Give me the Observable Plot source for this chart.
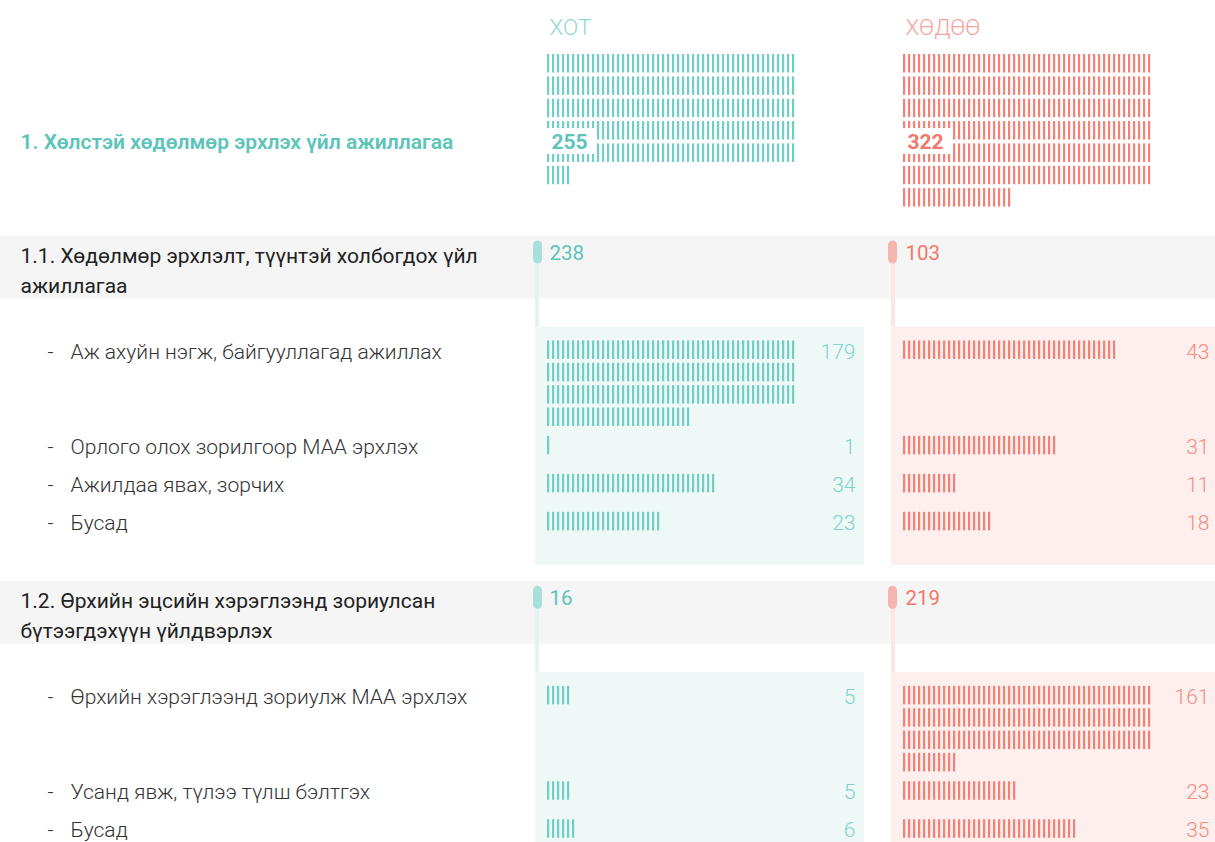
<!DOCTYPE html>
<html><head><meta charset="utf-8">
<script src="https://cdn.jsdelivr.net/npm/d3@7"></script>
<script src="https://cdn.jsdelivr.net/npm/@observablehq/plot@0.6"></script>
<style>body{margin:0;background:#fff;} svg{display:block;}</style>
</head><body><div id="chart"></div>
<script>
// ---- data ----
const columns = ["ХОТ", "ХӨДӨӨ"];
const totalLabel = "1. Хөлстэй хөдөлмөр эрхлэх үйл ажиллагаа";
const totalValues = [255, 322];
const sectionLabels = [
  "1.1. Хөдөлмөр эрхлэлт, түүнтэй холбогдох үйл\nажиллагаа",
  "1.2. Өрхийн эцсийн хэрэглээнд зориулсан\nбүтээгдэхүүн үйлдвэрлэх"
];
const sectionHot = [238, 16];
const sectionHodoo = [103, 219];
const itemSection = [0, 0, 0, 0, 1, 1, 1];
const itemLabels = [
  "Аж ахуйн нэгж, байгууллагад ажиллах",
  "Орлого олох зорилгоор МАА эрхлэх",
  "Ажилдаа явах, зорчих",
  "Бусад",
  "Өрхийн хэрэглээнд зориулж МАА эрхлэх",
  "Усанд явж, түлээ түлш бэлтгэх",
  "Бусад"
];
const itemHot = [179, 1, 34, 23, 5, 5, 6];
const itemHodoo = [43, 31, 11, 18, 161, 23, 35];

// ---- layout ----
const W = 1215, H = 842;
const perRow = 50, step = 5, tickW = 2.2, tickH = 18.5, pitch = 22.35;
const colX = [547, 903];
const pillX = [533, 888];
const lineX = [535, 891];
const bgX = [[535, 864], [891, 1225]];
const numRight = [855, 1209];
const tickColor = ["#6fcfc5", "#f58075"];
const headColor = ["#8fd8d0", "#f6a49c"];
const strongColor = ["#5cc4b9", "#f2776b"];
const numColor = ["#7fd3ca", "#f48b80"];
const pillColor = ["#a7e0da", "#f6b4ae"];
const lineColor = ["#e2f4f2", "#fde5e3"];
const bgColor = ["#eef8f7", "#fcefee"];

const ticks = [];
function waffle(n, c, top) {
  for (let i = 0; i < n; i++) {
    const r = Math.floor(i / perRow), k = i % perRow;
    const x1 = colX[c] + k * step, y1 = top + r * pitch;
    ticks.push({c, x1, x2: x1 + tickW, y1, y2: y1 + tickH});
  }
  return Math.ceil(n / perRow);
}

const top0 = 54;
const heads = columns.map((t, c) => ({c, t, x: colX[c] + 2, y: 27}));
let maxRows = 0;
const totals = totalValues.map((v, c) => {
  maxRows = Math.max(maxRows, waffle(v, c, top0));
  return {c, t: String(v), x: colX[c] + 4, y: top0 + 88,
          bx1: colX[c] - 1, bx2: colX[c] + 49, by1: top0 + 74, by2: top0 + 100};
});

const bands = [], pills = [], lines = [], bgs = [], secNums = [], secTitles = [], itemTexts = [], dashes = [], itemNums = [];
let secTop = top0 + maxRows * pitch + 25;
sectionLabels.forEach((label, s) => {
  bands.push({y1: secTop, y2: secTop + 63});
  secTitles.push({t: label, x: 20, y: secTop + 32});
  const bgTop = secTop + 91;
  [sectionHot[s], sectionHodoo[s]].forEach((v, c) => {
    pills.push({c, x1: pillX[c], x2: pillX[c] + 9, y1: secTop + 5, y2: secTop + 28});
    lines.push({c, x1: lineX[c], x2: lineX[c] + 4, y1: secTop + 24, y2: bgTop});
    secNums.push({c, t: String(v), x: colX[c] + 2, y: secTop + 17});
  });
  let itemTop = secTop + 105;
  itemLabels.forEach((lab, i) => {
    if (itemSection[i] !== s) return;
    const r0 = waffle(itemHot[i], 0, itemTop);
    const r1 = waffle(itemHodoo[i], 1, itemTop);
    const rows = Math.max(r0, r1);
    dashes.push({x: 47, y: itemTop + 11});
    itemTexts.push({t: lab, x: 70, y: itemTop + 11});
    itemNums.push({c: 0, t: String(itemHot[i]), x: numRight[0], y: itemTop + 11});
    itemNums.push({c: 1, t: String(itemHodoo[i]), x: numRight[1], y: itemTop + 11});
    itemTop += Math.max(rows * pitch - 4, 28) + 10;
  });
  const bgBottom = itemTop + 15;
  [0, 1].forEach(c => bgs.push({c, x1: bgX[c][0], x2: bgX[c][1], y1: bgTop, y2: bgBottom}));
  secTop = bgBottom + 16;
});

const byC = (arr, c) => arr.filter(d => d.c === c);
const marks = [
  Plot.rect(bands, {x1: 0, x2: W, y1: "y1", y2: "y2", fill: "#f5f5f5"}),
];
[0, 1].forEach(c => {
  marks.push(
    Plot.rect(byC(bgs, c), {x1: "x1", x2: "x2", y1: "y1", y2: "y2", fill: bgColor[c]}),
    Plot.rect(byC(lines, c), {x1: "x1", x2: "x2", y1: "y1", y2: "y2", fill: lineColor[c]}),
    Plot.rect(byC(pills, c), {x1: "x1", x2: "x2", y1: "y1", y2: "y2", fill: pillColor[c], rx: 4.5}),
    Plot.rect(byC(ticks, c), {x1: "x1", x2: "x2", y1: "y1", y2: "y2", fill: tickColor[c]}),
    Plot.rect(byC(totals, c), {x1: "bx1", x2: "bx2", y1: "by1", y2: "by2", fill: "white"}),
    Plot.text(byC(totals, c), {x: "x", y: "y", text: "t", fill: strongColor[c], fontSize: 21, fontWeight: 700, textAnchor: "start"}),
    Plot.text(byC(heads, c), {x: "x", y: "y", text: "t", fill: headColor[c], fontSize: 22.5, fontWeight: 300, textAnchor: "start"}),
    Plot.text(byC(secNums, c), {x: "x", y: "y", text: "t", fill: strongColor[c], fontSize: 20.5, fontWeight: 400, textAnchor: "start"}),
    Plot.text(byC(itemNums, c), {x: "x", y: "y", text: "t", fill: numColor[c], fontSize: 21, fontWeight: 300, textAnchor: "end"})
  );
});
marks.push(
  Plot.text([{t: totalLabel}], {x: () => 20, y: () => top0 + 88, text: "t", fill: "#5cc4b9", fontSize: 21, fontWeight: 600, textAnchor: "start"}),
  Plot.text(secTitles, {x: "x", y: "y", text: "t", fill: "#222", fontSize: 21, fontWeight: 400, textAnchor: "start", lineAnchor: "middle", lineHeight: 1.43}),
  Plot.text(dashes, {x: "x", y: "y", text: () => "-", fill: "#333", fontSize: 21, fontWeight: 300, textAnchor: "start"}),
  Plot.text(itemTexts, {x: "x", y: "y", text: "t", fill: "#333", fontSize: 21, fontWeight: 300, textAnchor: "start"})
);

const chart = Plot.plot({
  width: W, height: H,
  marginTop: 0, marginRight: 0, marginBottom: 0, marginLeft: 0,
  x: {domain: [0, W], range: [0, W], axis: null},
  y: {domain: [0, H], range: [0, H], axis: null},
  style: {fontFamily: "Roboto, 'Noto Sans', sans-serif", background: "white", overflow: "hidden"},
  marks
});
document.getElementById("chart").appendChild(chart);
</script>
</body></html>
